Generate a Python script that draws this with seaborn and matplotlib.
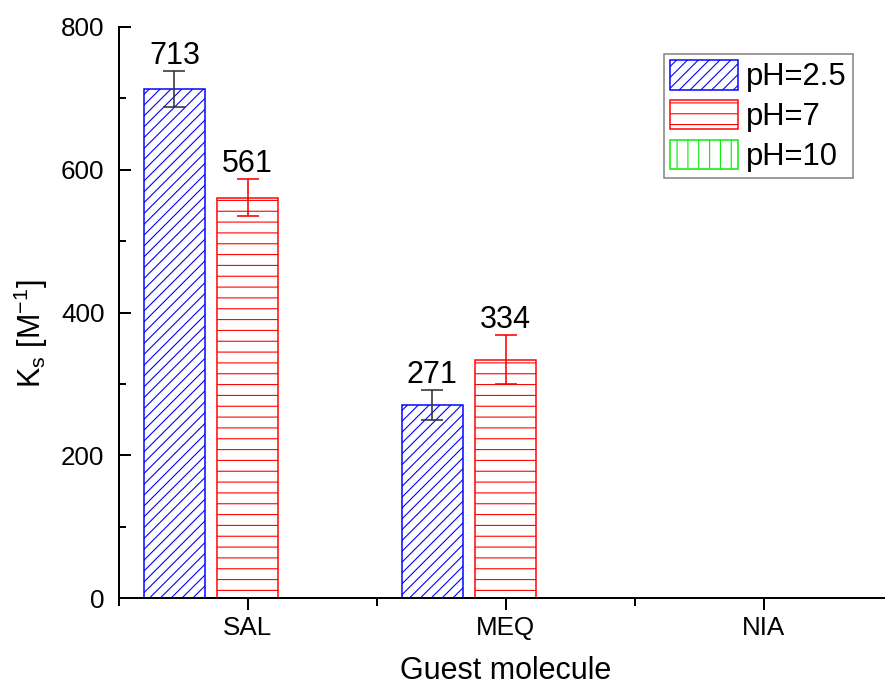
import numpy as np
import pandas as pd
import matplotlib
matplotlib.use("Agg")
import matplotlib.pyplot as plt
from matplotlib.patches import Patch
from matplotlib.ticker import MultipleLocator
import seaborn as sns

# ---- data ---------------------------------------------------------------
molecules = ["SAL", "MEQ", "NIA"]
ph_levels = ["pH=2.5", "pH=7", "pH=10"]
ks_ph25 = [713, 271, np.nan]
ks_ph7 = [561, 334, np.nan]
ks_ph10 = [np.nan, np.nan, np.nan]
err_ph25 = [25, 21, np.nan]
err_ph7 = [26, 34, np.nan]
err_ph10 = [np.nan, np.nan, np.nan]

colors = {"pH=2.5": "#0000ff", "pH=7": "#ff0000", "pH=10": "#00ee00"}
err_colors = {"pH=2.5": "#333333", "pH=7": "#ff0000", "pH=10": "#00ee00"}
hatches = {"pH=2.5": "////", "pH=7": "--", "pH=10": "||"}

rows = []
for lvl, vals, errs in zip(ph_levels, [ks_ph25, ks_ph7, ks_ph10],
                           [err_ph25, err_ph7, err_ph10]):
    for mol, v, e in zip(molecules, vals, errs):
        rows.append({"molecule": mol, "pH": lvl, "Ks": v, "err": e})
df = pd.DataFrame(rows)

# ---- style ---------------------------------------------------------------
DPI = 130
W, H = 885, 690


def pt(px):
    """Convert a pixel length to points at the figure dpi."""
    return px * 72.0 / DPI


sns.set_style("ticks")
plt.rcParams["font.family"] = ["Liberation Sans", "DejaVu Sans"]
plt.rcParams["mathtext.fontset"] = "custom"
plt.rcParams["mathtext.rm"] = "Liberation Sans"
plt.rcParams["mathtext.it"] = "Liberation Sans:italic"
plt.rcParams["hatch.linewidth"] = pt(1.1)
plt.rcParams["text.color"] = "black"
plt.rcParams["axes.labelcolor"] = "black"
plt.rcParams["xtick.color"] = "black"
plt.rcParams["ytick.color"] = "black"

fig = plt.figure(figsize=(W / DPI, H / DPI), dpi=DPI)
ax = fig.add_axes([118.5 / W, (H - 598) / H, 774 / W, 571 / H])

sns.barplot(data=df, x="molecule", y="Ks", hue="pH", order=molecules,
            hue_order=ph_levels, width=0.85, gap=0.167, errorbar=None,
            legend=False, ax=ax)

# restyle bars: white fill, coloured hatched outline
for patch in ax.patches:
    h = patch.get_height()
    if not np.isfinite(h):
        continue
    row = df[df["Ks"] == h].iloc[0]
    lvl = row["pH"]
    patch.set_facecolor("white")
    patch.set_edgecolor(colors[lvl])
    patch.set_hatch(hatches[lvl])
    patch.set_linewidth(pt(1.5))
    xc = patch.get_x() + patch.get_width() / 2
    ax.errorbar(xc, row["Ks"], yerr=row["err"], fmt="none",
                ecolor=err_colors[lvl], elinewidth=pt(1.6),
                capsize=pt(11), capthick=pt(1.6), zorder=3)
    ax.annotate(f"{row['Ks']:.0f}", (xc, row["Ks"] + row["err"]),
                xytext=(0, pt(7)), textcoords="offset points",
                ha="center", va="baseline", fontsize=pt(30.5), color="black")

# ---- axes ----------------------------------------------------------------
ax.set_xlim(-0.5, 2.5)
ax.set_ylim(0, 800)
ax.set_xticks(range(len(molecules)))
ax.set_xticklabels(molecules)
ax.set_xticks([-0.5, 0.5, 1.5, 2.5], minor=True)
ax.yaxis.set_major_locator(MultipleLocator(200))
ax.yaxis.set_minor_locator(MultipleLocator(100))

for side in ["top", "right"]:
    ax.spines[side].set_visible(False)
for side in ["left", "bottom"]:
    ax.spines[side].set_linewidth(pt(2))
    ax.spines[side].set_color("black")

ax.tick_params(axis="y", which="both", direction="in", width=pt(2),
               color="black", labelcolor="black", labelsize=pt(26),
               pad=pt(14))
ax.tick_params(axis="y", which="major", length=pt(12))
ax.tick_params(axis="y", which="minor", length=pt(7))
ax.tick_params(axis="x", which="both", direction="out", width=pt(2),
               color="black", labelcolor="black", labelsize=pt(26),
               pad=pt(6))
ax.tick_params(axis="x", which="major", length=pt(12))
ax.tick_params(axis="x", which="minor", length=pt(8))

ax.set_xlabel("Guest molecule", fontsize=pt(30.5), color="black")
ax.set_ylabel(r"K$_\mathregular{s}$ [M$^\mathregular{-1}$]",
              fontsize=pt(30.5), color="black")
ax.xaxis.set_label_coords(0.5, (598 - 656) / 571)
ax.yaxis.set_label_coords((50 - 118.5) / 774, (598 - 334) / 571)

# ---- legend --------------------------------------------------------------
handles = [Patch(facecolor="white", edgecolor=colors[l], hatch=hatches[l],
                 linewidth=pt(1.5), label=l) for l in ph_levels]
leg = ax.legend(handles=handles, loc="upper right",
                bbox_to_anchor=(853 / W, 1 - 54 / H),
                bbox_transform=fig.transFigure, borderaxespad=0,
                frameon=True, fancybox=False, framealpha=1,
                edgecolor="#7f7f7f", fontsize=pt(31), borderpad=0.2,
                handlelength=2.2, handleheight=1.08, handletextpad=0.25,
                labelspacing=0.24, labelcolor="black")
leg.get_frame().set_linewidth(pt(1.5))

fig.savefig("out.png", dpi=DPI)
